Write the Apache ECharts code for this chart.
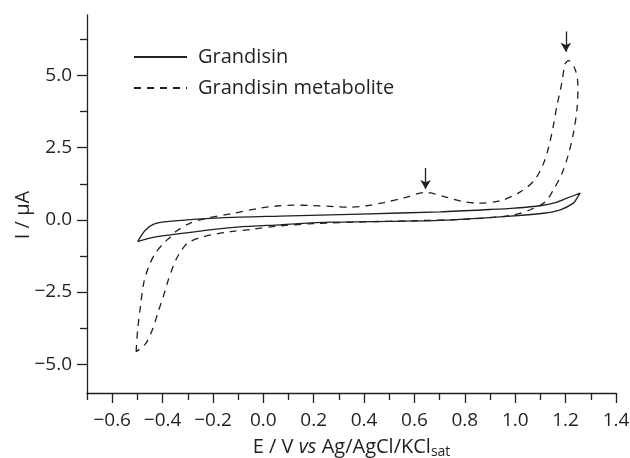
<!DOCTYPE html>
<html>
<head>
<meta charset="utf-8">
<script src="https://cdn.jsdelivr.net/npm/echarts@6/dist/echarts.min.js"></script>
<style>
  html, body { margin: 0; padding: 0; background: #fff; }
  #main { width: 630px; height: 458px; }
</style>
</head>
<body>
<div id="main"></div>
<script>
// Grandisin: closed loop, [E (V), I (uA)]
var grandisin = [
    [-0.499, -0.75], [-0.468, -0.35], [-0.435, -0.15], [-0.396, -0.07], [-0.303, 0.0],
    [-0.17, 0.07], [0.067, 0.13], [0.385, 0.2], [0.702, 0.28], [0.9, 0.36],
    [1.0, 0.41], [1.099, 0.49], [1.16, 0.6], [1.205, 0.75], [1.258, 0.93],
    [1.245, 0.75], [1.231, 0.58], [1.179, 0.35], [1.112, 0.23], [0.967, 0.12],
    [0.702, -0.02], [0.5, -0.05], [0.266, -0.08], [0.067, -0.17], [-0.104, -0.25],
    [-0.237, -0.37], [-0.369, -0.52], [-0.45, -0.63], [-0.499, -0.75]
];

// Grandisin metabolite: closed loop
var metabolite = [
    [-0.505, -4.57], [-0.499, -3.82], [-0.488, -3.01], [-0.475, -2.2], [-0.455, -1.62],
    [-0.429, -1.16], [-0.396, -0.81], [-0.37, -0.6], [-0.349, -0.41], [-0.29, -0.11],
    [-0.223, 0.06], [-0.118, 0.23], [-0.012, 0.41], [0.054, 0.48], [0.12, 0.51],
    [0.19, 0.5], [0.28, 0.46], [0.345, 0.44], [0.41, 0.49], [0.478, 0.6],
    [0.557, 0.76], [0.644, 0.95], [0.729, 0.78], [0.79, 0.64], [0.848, 0.58],
    [0.94, 0.66], [1.02, 0.97], [1.075, 1.36], [1.112, 1.95], [1.132, 2.5],
    [1.15, 3.2], [1.165, 3.93], [1.185, 4.75], [1.198, 5.4], [1.212, 5.52],
    [1.238, 5.21], [1.249, 4.63], [1.245, 3.82], [1.231, 3.01], [1.212, 2.3],
    [1.185, 1.6], [1.152, 1.05], [1.119, 0.62], [1.06, 0.35], [0.993, 0.17],
    [0.93, 0.1], [0.8, 0.02], [0.6, -0.03], [0.4, -0.07], [0.2, -0.13],
    [0.05, -0.22], [-0.038, -0.32], [-0.131, -0.41], [-0.237, -0.58], [-0.3, -0.8],
    [-0.325, -1.05], [-0.345, -1.35], [-0.362, -1.7], [-0.378, -2.1], [-0.395, -2.6],
    [-0.418, -3.2], [-0.44, -3.8], [-0.468, -4.3], [-0.505, -4.57]
];

// peak arrows: [x, yStart, yEnd]
var arrows = [
    [0.644, 1.80, 1.07],
    [1.201, 6.53, 5.83]
];

var xMajor = [-0.6, -0.4, -0.2, 0.0, 0.2, 0.4, 0.6, 0.8, 1.0, 1.2, 1.4];
var xMinor = [-0.7, -0.5, -0.3, -0.1, 0.1, 0.3, 0.5, 0.7, 0.9, 1.1, 1.3];
var yMajor = [-5.0, -2.5, 0.0, 2.5, 5.0];
var yMinor = [-3.75, -1.25, 1.25, 3.75, 6.25];

var ink = '#231f20';
var font = 'Open Sans';

function fmt(v) {
    var s = Math.abs(v).toFixed(1);
    return v < -1e-9 ? '\u2212' + s : s;
}

var chart = echarts.init(document.getElementById('main'));

var axisLine = { show: true, onZero: false, lineStyle: { color: ink, width: 1.3 } };

var option = {
    animation: false,
    backgroundColor: '#fff',
    grid: { left: 87, right: 14, top: 15, bottom: 65, outerBoundsMode: 'none', containLabel: false },
    legend: {
        orient: 'vertical',
        left: 133,
        top: 47,
        padding: 0,
        itemWidth: 53,
        itemHeight: 14,
        itemGap: 11,
        itemStyle: { color: 'transparent', borderColor: 'transparent', borderWidth: 0 },
        textStyle: { color: ink, fontSize: 20, fontFamily: font, padding: [0, 0, 0, 6] },
        data: ['Grandisin', 'Grandisin metabolite']
    },
    xAxis: [{
        type: 'value', min: -0.7, max: 1.4, position: 'bottom',
        name: '{a|E / V }{i|vs}{a| Ag/AgCl/KCl}{s|sat}',
        nameLocation: 'middle', nameGap: 42,
        nameTextStyle: {
            rich: {
                a: { fontSize: 20, fontFamily: font, color: ink },
                i: { fontSize: 20, fontFamily: font, color: ink, fontStyle: 'italic' },
                s: { fontSize: 14, fontFamily: font, color: ink, padding: [10, 0, 0, 0] }
            }
        },
        axisLine: axisLine,
        axisTick: { show: true, length: 10, customValues: xMajor, lineStyle: { color: ink, width: 1.3 } },
        axisLabel: { customValues: xMajor, margin: 18, fontSize: 19, fontFamily: font, color: ink, formatter: fmt },
        splitLine: { show: false }
    }, {
        type: 'value', min: -0.7, max: 1.4, position: 'bottom', offset: 0,
        axisLine: { show: false, onZero: false },
        axisTick: { show: true, length: 7, customValues: xMinor, lineStyle: { color: ink, width: 1.3 } },
        axisLabel: { show: false },
        splitLine: { show: false }
    }],
    yAxis: [{
        type: 'value', min: -6, max: 7.1, position: 'left',
        name: 'I / \u03bcA',
        nameLocation: 'middle', nameGap: 54, nameMoveOverlap: false,
        nameTextStyle: { fontSize: 20, fontFamily: font, color: ink, padding: [0, 22, 0, 0] },
        axisLine: axisLine,
        axisTick: { show: true, length: 10, customValues: yMajor, lineStyle: { color: ink, width: 1.3 } },
        axisLabel: { customValues: yMajor, margin: 15, fontSize: 19, fontFamily: font, color: ink, formatter: fmt },
        splitLine: { show: false }
    }, {
        type: 'value', min: -6, max: 7.1, position: 'left', offset: 0,
        axisLine: { show: false, onZero: false },
        axisTick: { show: true, length: 7, customValues: yMinor, lineStyle: { color: ink, width: 1.3 } },
        axisLabel: { show: false },
        splitLine: { show: false }
    }],
    series: [{
        name: 'Grandisin',
        type: 'line',
        data: grandisin,
        symbol: 'none',
        smooth: 0.3,
        lineStyle: { color: ink, width: 1.3, type: 'solid' },
        itemStyle: { color: ink }
    }, {
        name: 'Grandisin metabolite',
        type: 'line',
        data: metabolite,
        symbol: 'none',
        smooth: 0.3,
        lineStyle: { color: ink, width: 1.3, type: [7, 6] },
        itemStyle: { color: ink },
        markLine: {
            silent: true,
            symbol: ['none', 'arrow'],
            symbolSize: [8, 9],
            label: { show: false },
            lineStyle: { color: ink, width: 1.3, type: 'solid' },
            data: arrows.map(function (a) {
                return [{ coord: [a[0], a[1]] }, { coord: [a[0], a[2]] }];
            })
        }
    }]
};

chart.setOption(option);
</script>
</body>
</html>
